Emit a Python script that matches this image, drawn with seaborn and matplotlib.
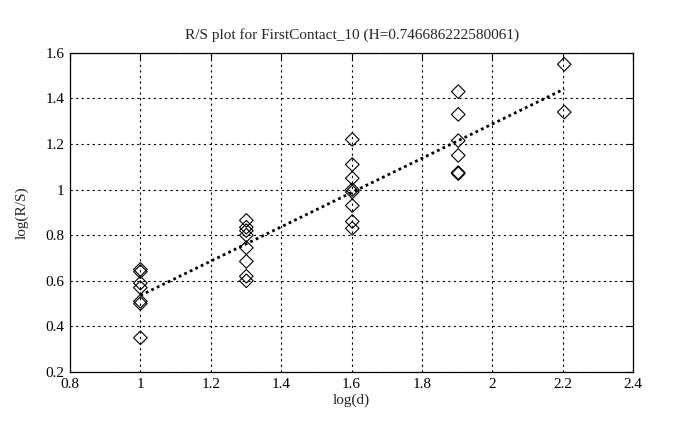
import numpy as np
import pandas as pd
import matplotlib
matplotlib.use("Agg")
import matplotlib.pyplot as plt
import seaborn as sns

# data
d_values = [10, 20, 40, 80, 160]
rs_x10 = [0.65, 0.64, 0.59, 0.57, 0.51, 0.50, 0.35]
rs_x20 = [0.865, 0.835, 0.82, 0.80, 0.745, 0.685, 0.62, 0.60]
rs_x40 = [1.22, 1.11, 1.05, 1.00, 0.99, 0.93, 0.86, 0.83]
rs_x80 = [1.43, 1.33, 1.215, 1.15, 1.075, 1.07]
rs_x160 = [1.55, 1.34]
x_ticks = [0.8, 1, 1.2, 1.4, 1.6, 1.8, 2, 2.2, 2.4]
y_ticks = [0.2, 0.4, 0.6, 0.8, 1, 1.2, 1.4, 1.6]
title = "R/S plot for FirstContact_10 (H=0.746686222580061)"

groups = [rs_x10, rs_x20, rs_x40, rs_x80, rs_x160]
xs, ys = [], []
for d, vals in zip(d_values, groups):
    for v in vals:
        xs.append(np.log10(d))
        ys.append(v)
df = pd.DataFrame({"logd": xs, "logrs": ys})

slope, intercept = np.polyfit(df["logd"], df["logrs"], 1)
fit_x = np.array([np.log10(d_values[0]), np.log10(d_values[-1])])
fit_df = pd.DataFrame({"logd": fit_x, "fit": slope * fit_x + intercept})

sns.set_style("white")
plt.rcParams["font.family"] = ["Liberation Serif", "DejaVu Serif"]

fig = plt.figure(figsize=(6.86, 4.30), dpi=100)
ax = fig.add_axes([0.102, 0.135, 0.821, 0.742])

sns.scatterplot(data=df, x="logd", y="logrs", ax=ax, marker="D", s=48,
                facecolor="none", edgecolor="black", linewidth=0.8)
sns.lineplot(data=fit_df, x="logd", y="fit", ax=ax, color="black",
             linestyle=(0, (1, 1.2)), linewidth=2.0)

ax.set_xlim(0.8, 2.4)
ax.set_ylim(0.2, 1.6)
ax.set_xticks(x_ticks)
ax.set_xticklabels([f"{t:g}" for t in x_ticks])
ax.set_yticks(y_ticks)
ax.set_yticklabels([f"{t:g}" for t in y_ticks])
ax.grid(True, color="black", linestyle=(0, (2, 3)), linewidth=0.8)
ax.tick_params(direction="in", top=True, right=True, length=5, width=0.8,
               labelsize=11, colors="black", pad=4)
for sp in ax.spines.values():
    sp.set_color("black")
    sp.set_linewidth(0.9)
ax.set_xlabel("log(d)", fontsize=11, labelpad=2)
ax.set_ylabel("log(R/S)", fontsize=11, labelpad=12)
ax.set_title(title, fontsize=11, pad=10)
fig.savefig("out.png", dpi=100)
